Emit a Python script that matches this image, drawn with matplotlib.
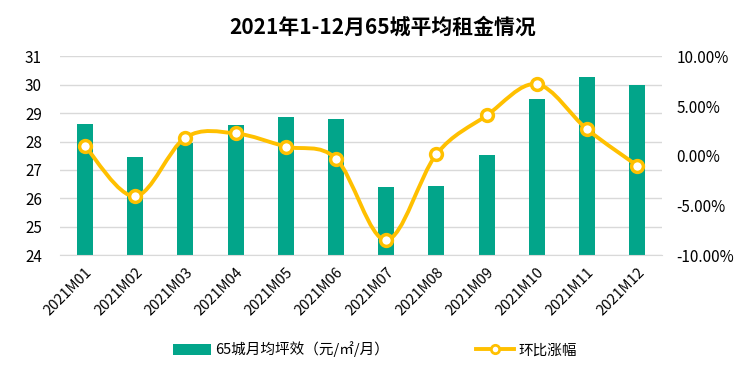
import numpy as np
import matplotlib
matplotlib.use('Agg')
import matplotlib.pyplot as plt
from matplotlib.path import Path
from matplotlib.patches import PathPatch, Patch
from matplotlib.lines import Line2D
from matplotlib.ticker import FuncFormatter

plt.rcParams['font.family'] = ['Noto Sans CJK SC', 'DejaVu Sans']
plt.rcParams['axes.unicode_minus'] = False

months = ['2021M01', '2021M02', '2021M03', '2021M04', '2021M05', '2021M06',
          '2021M07', '2021M08', '2021M09', '2021M10', '2021M11', '2021M12']
rent = [28.62, 27.46, 27.95, 28.59, 28.87, 28.80,
        26.40, 26.44, 27.53, 29.51, 30.28, 30.00]
mom = [0.96, -4.08, 1.83, 2.24, 0.92, -0.29,
       -8.49, 0.15, 4.05, 7.20, 2.67, -0.99]

bar_color = '#02A58A'
line_color = '#FFC000'

fig = plt.figure(figsize=(7.5, 3.66), dpi=100)
ax = fig.add_axes([0.08, 0.303, 0.803, 0.543])
ax2 = ax.twinx()

x = np.arange(len(months))
ax.bar(x, rent, width=0.32, color=bar_color, zorder=2)
ax.set_ylim(24, 31)
ax.set_yticks(range(24, 32))
ax.set_xlim(-0.5, len(months) - 0.5)
ax.set_xticks(x)
ax.set_xticklabels(months, rotation=45, ha='right', rotation_mode='anchor')
ax.grid(axis='y', color='#D9D9D9', linewidth=1, zorder=0)
ax.set_axisbelow(True)
ax.tick_params(axis='y', length=0, labelsize=11, pad=13)
ax.tick_params(axis='x', length=0, pad=7, labelsize=10.5)
for s in ['top', 'right', 'left']:
    ax.spines[s].set_visible(False)
ax.spines['bottom'].set_color('#D9D9D9')

# smoothed line (Excel-style Catmull-Rom Bezier)
px = list(x.astype(float))
py = list(mom)
verts = [(px[0], py[0])]
codes = [Path.MOVETO]
n = len(px)
for i in range(n - 1):
    p0 = (px[max(i - 1, 0)], py[max(i - 1, 0)])
    p1 = (px[i], py[i])
    p2 = (px[i + 1], py[i + 1])
    p3 = (px[min(i + 2, n - 1)], py[min(i + 2, n - 1)])
    c1 = (p1[0] + (p2[0] - p0[0]) / 6, p1[1] + (p2[1] - p0[1]) / 6)
    c2 = (p2[0] - (p3[0] - p1[0]) / 6, p2[1] - (p3[1] - p1[1]) / 6)
    verts += [c1, c2, p2]
    codes += [Path.CURVE4] * 3
ax2.add_patch(PathPatch(Path(verts, codes), facecolor='none', edgecolor=line_color,
                        linewidth=2.8, zorder=3))
ax2.plot(x, mom, linestyle='none', marker='o', markersize=8.5, markerfacecolor='white',
         markeredgecolor=line_color, markeredgewidth=2.5, zorder=4)
ax2.set_ylim(-10, 10)
ax2.set_yticks(range(-10, 11, 5))
ax2.yaxis.set_major_formatter(FuncFormatter(lambda v, p: f'{v:.2f}%'))
ax2.tick_params(axis='y', length=0, labelsize=11, pad=10)
for s in ax2.spines.values():
    s.set_visible(False)

fig.text(0.51, 0.927, '2021年1-12月65城平均租金情况', ha='center', va='center',
         fontsize=15, fontweight='bold')

handles = [Patch(facecolor=bar_color, edgecolor='none'),
           Line2D([0], [0], color=line_color, linewidth=2.8, marker='o', markersize=6,
                  markerfacecolor='white', markeredgecolor=line_color, markeredgewidth=2)]
fig.legend(handles, ['65城月均坪效（元/㎡/月）', '环比涨幅'], loc='center',
           bbox_to_anchor=(0.5, 0.045), ncol=2, frameon=False, fontsize=10.5,
           handlelength=2.6, handleheight=0.8, columnspacing=6, handletextpad=0.3)

fig.savefig('out.png', dpi=100)
